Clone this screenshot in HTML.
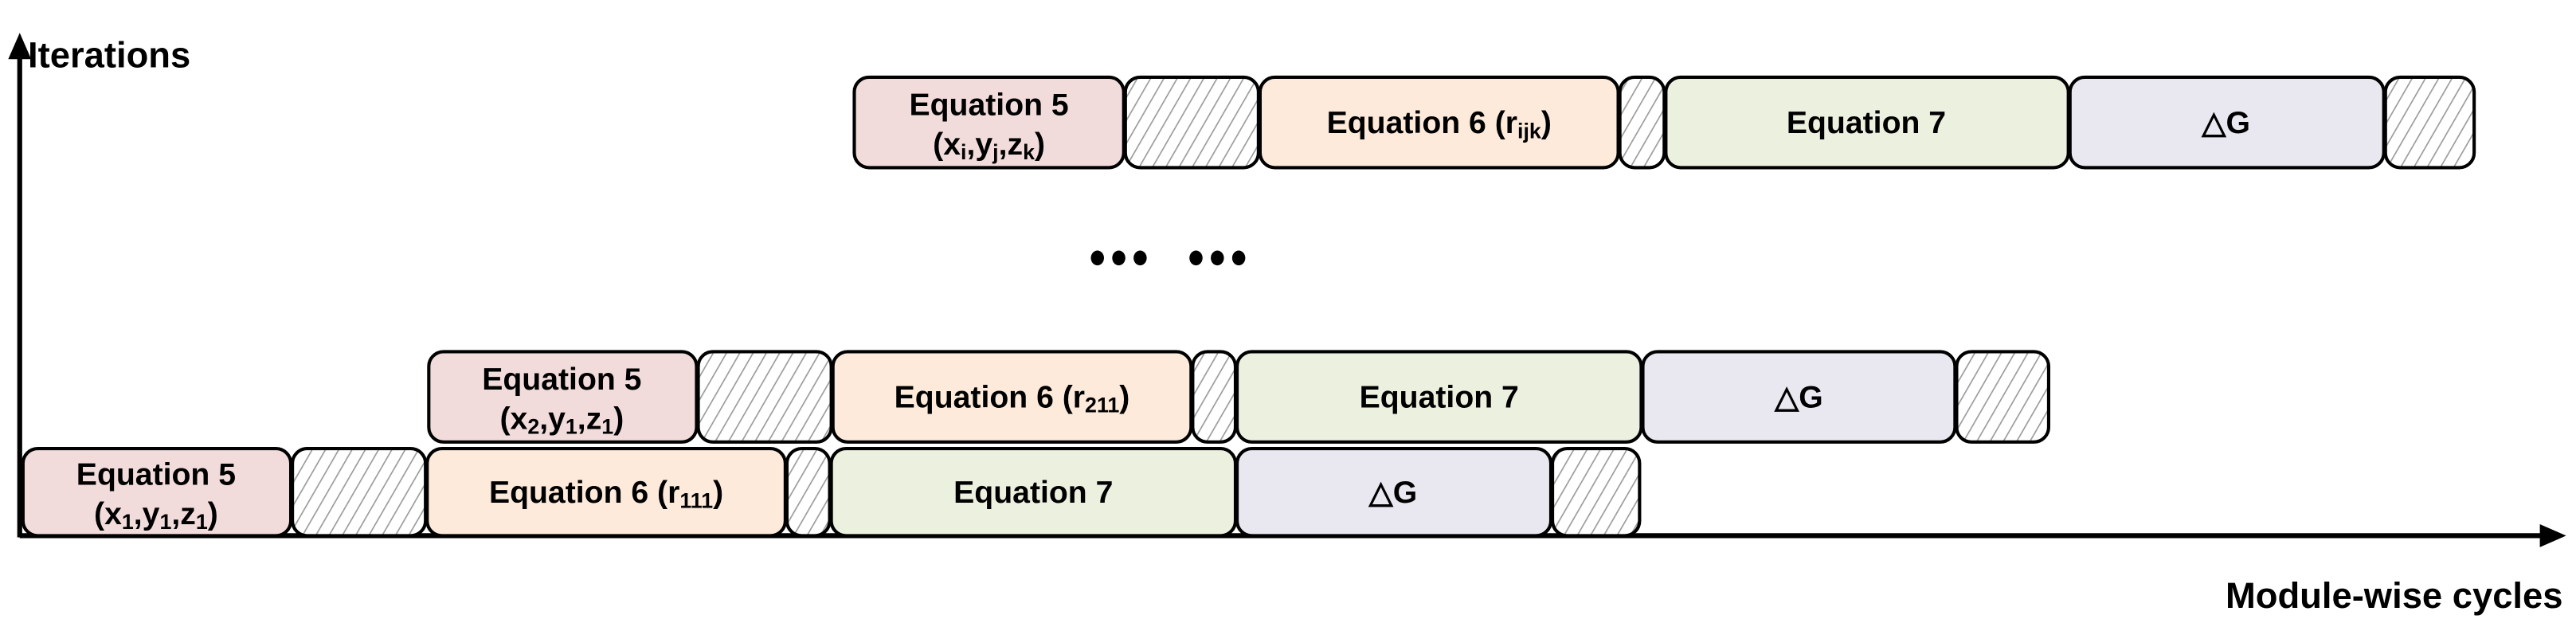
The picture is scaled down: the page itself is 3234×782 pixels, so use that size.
<!DOCTYPE html>
<html><head><meta charset="utf-8"><style>
html,body{margin:0;padding:0;background:#fff;}
svg{display:block;}
text{font-family:"Liberation Sans",Arial,sans-serif;font-weight:bold;fill:#000;}
</style></head><body>
<svg width="3234" height="782" viewBox="0 0 1568 379.15" preserveAspectRatio="none" xmlns="http://www.w3.org/2000/svg">
<defs>
<pattern id="h" patternUnits="userSpaceOnUse" width="7" height="7" patternTransform="rotate(30)">
<rect width="7" height="7" fill="#fff"/>
<line x1="0" y1="0" x2="0" y2="7" stroke="#9a9a9a" stroke-width="1.6"/>
</pattern>
</defs>
<!-- axes -->
<line x1="12" y1="326" x2="1548" y2="326" stroke="#000" stroke-width="3"/>
<polygon points="1546,319 1562,326 1546,333" fill="#000"/>
<line x1="12" y1="327" x2="12" y2="34" stroke="#000" stroke-width="3"/>
<polygon points="5,36 12,20 19,36" fill="#000"/>
<text x="17" y="41" font-size="22">Iterations</text>
<text x="1560" y="370" font-size="22" text-anchor="end">Module-wise cycles</text>

<g stroke="#000" stroke-width="2">
<!-- row1 -->
<rect x="14" y="273" width="163" height="53" rx="9" fill="#f2dcdb"/>
<rect x="178" y="273" width="81" height="53" rx="9" fill="url(#h)"/>
<rect x="260" y="273" width="218" height="53" rx="9" fill="#fdeada"/>
<rect x="479" y="273" width="26" height="53" rx="9" fill="url(#h)"/>
<rect x="506" y="273" width="246" height="53" rx="9" fill="#ebf1de"/>
<rect x="753" y="273" width="191" height="53" rx="9" fill="#e9e7ef"/>
<rect x="945" y="273" width="53" height="53" rx="9" fill="url(#h)"/>
<!-- row2 -->
<rect x="261" y="214" width="163" height="55" rx="9" fill="#f2dcdb"/>
<rect x="425" y="214" width="81" height="55" rx="9" fill="url(#h)"/>
<rect x="507" y="214" width="218" height="55" rx="9" fill="#fdeada"/>
<rect x="726" y="214" width="26" height="55" rx="9" fill="url(#h)"/>
<rect x="753" y="214" width="246" height="55" rx="9" fill="#ebf1de"/>
<rect x="1000" y="214" width="190" height="55" rx="9" fill="#e9e7ef"/>
<rect x="1191" y="214" width="56" height="55" rx="9" fill="url(#h)"/>
<!-- row3 -->
<rect x="520" y="47" width="164" height="55" rx="9" fill="#f2dcdb"/>
<rect x="685" y="47" width="81" height="55" rx="9" fill="url(#h)"/>
<rect x="767" y="47" width="218" height="55" rx="9" fill="#fdeada"/>
<rect x="986" y="47" width="27" height="55" rx="9" fill="url(#h)"/>
<rect x="1014" y="47" width="245" height="55" rx="9" fill="#ebf1de"/>
<rect x="1260" y="47" width="191" height="55" rx="9" fill="#e9e7ef"/>
<rect x="1452" y="47" width="54" height="55" rx="9" fill="url(#h)"/>
</g>

<g font-size="19" text-anchor="middle">
<!-- row1 -->
<text x="95" y="295">Equation 5</text>
<text x="95" y="319">(x<tspan font-size="13" dy="3">1</tspan><tspan dy="-3">,y</tspan><tspan font-size="13" dy="3">1</tspan><tspan dy="-3">,z</tspan><tspan font-size="13" dy="3">1</tspan><tspan dy="-3">)</tspan></text>
<text x="369" y="306">Equation 6 (r<tspan font-size="13" dy="3">111</tspan><tspan dy="-3">)</tspan></text>
<text x="629" y="306">Equation 7</text>
<text x="848" y="306">△G</text>
<!-- row2 -->
<text x="342" y="237">Equation 5</text>
<text x="342" y="261">(x<tspan font-size="13" dy="3">2</tspan><tspan dy="-3">,y</tspan><tspan font-size="13" dy="3">1</tspan><tspan dy="-3">,z</tspan><tspan font-size="13" dy="3">1</tspan><tspan dy="-3">)</tspan></text>
<text x="616" y="248">Equation 6 (r<tspan font-size="13" dy="3">211</tspan><tspan dy="-3">)</tspan></text>
<text x="876" y="248">Equation 7</text>
<text x="1095" y="248">△G</text>
<!-- row3 -->
<text x="602" y="70">Equation 5</text>
<text x="602" y="94">(x<tspan font-size="13" dy="3">i</tspan><tspan dy="-3">,y</tspan><tspan font-size="13" dy="3">j</tspan><tspan dy="-3">,z</tspan><tspan font-size="13" dy="3">k</tspan><tspan dy="-3">)</tspan></text>
<text x="876" y="81">Equation 6 (r<tspan font-size="13" dy="3">ijk</tspan><tspan dy="-3">)</tspan></text>
<text x="1136" y="81">Equation 7</text>
<text x="1355" y="81">△G</text>
</g>
<!-- dots -->
<g fill="#000">
<ellipse cx="668" cy="157" rx="4" ry="4.5"/><ellipse cx="681" cy="157" rx="4" ry="4.5"/><ellipse cx="694" cy="157" rx="4" ry="4.5"/>
<ellipse cx="728" cy="157" rx="4" ry="4.5"/><ellipse cx="741" cy="157" rx="4" ry="4.5"/><ellipse cx="754" cy="157" rx="4" ry="4.5"/>
</g>
</svg>
</body></html>
